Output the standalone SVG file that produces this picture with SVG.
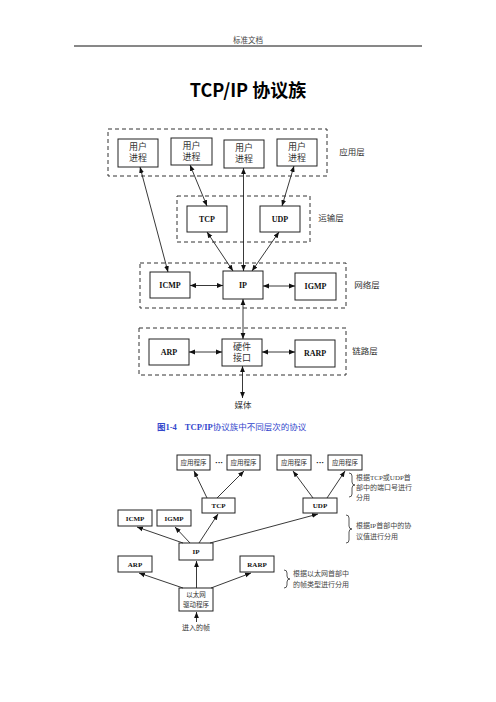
<svg xmlns="http://www.w3.org/2000/svg" width="496" height="702" viewBox="0 0 496 702">
<defs>
<marker id="ah" viewBox="0 0 10 10" refX="10" refY="5" markerWidth="6" markerHeight="6" orient="auto-start-reverse" markerUnits="userSpaceOnUse"><path d="M0,1 L10,5 L0,9 z" fill="#111"/></marker>
<style>
.box{fill:#fff;stroke:#222;stroke-width:1}
.dash{fill:none;stroke:#333;stroke-width:1;stroke-dasharray:4,3}
.c{fill:none;stroke:#222;stroke-width:0.9}
.a2{marker-start:url(#ah);marker-end:url(#ah)}
.a1{marker-end:url(#ah)}
.cj{font-family:"Liberation Serif","Noto Sans CJK SC",serif;fill:#333;text-anchor:middle}
.lb{font-family:"Liberation Serif","Noto Sans CJK SC",serif;fill:#111;font-weight:bold;text-anchor:middle}
.note{font-family:"Liberation Serif","Noto Sans CJK SC",serif;fill:#444;font-size:7px}
.br{fill:none;stroke:#444;stroke-width:0.9}
</style>
</defs>
<rect width="496" height="702" fill="#fff"/>
<text x="248" y="43" class="cj" style="font-size:7.5px;fill:#444">标准文档</text>
<line x1="74" y1="46" x2="422" y2="46" stroke="#111" stroke-width="1"/>
<text x="248" y="97" style="font-family:'Noto Sans CJK SC',sans-serif;font-weight:bold;font-size:18px;fill:#000;text-anchor:middle">TCP/IP 协议族</text>

<!-- Diagram 1 -->
<g id="layers1">
<rect class="dash" x="108" y="129" width="219" height="47"/>
<rect class="dash" x="177" y="196" width="133" height="46"/>
<rect class="dash" x="140" y="263" width="206" height="45"/>
<rect class="dash" x="139" y="328" width="207" height="47"/>
<text x="352" y="155" class="cj" style="font-size:8.5px">应用层</text>
<text x="331" y="221" class="cj" style="font-size:8.5px">运输层</text>
<text x="367" y="288" class="cj" style="font-size:8.5px">网络层</text>
<text x="365" y="354" class="cj" style="font-size:8.5px">链路层</text>
</g>
<g id="up1"><rect class="box" x="118" y="139" width="40" height="28"/><text x="138" y="150" class="cj" style="font-size:9px">用户</text><text x="138" y="161" class="cj" style="font-size:9px">进程</text></g>
<g id="up2"><rect class="box" x="171" y="138" width="41" height="27"/><text x="191.500" y="149" class="cj" style="font-size:9px">用户</text><text x="191.500" y="160" class="cj" style="font-size:9px">进程</text></g>
<g id="up3"><rect class="box" x="224" y="140" width="40" height="28"/><text x="244" y="151" class="cj" style="font-size:9px">用户</text><text x="244" y="162" class="cj" style="font-size:9px">进程</text></g>
<g id="up4"><rect class="box" x="277" y="139" width="40" height="27"/><text x="297" y="150" class="cj" style="font-size:9px">用户</text><text x="297" y="161" class="cj" style="font-size:9px">进程</text></g>
<g id="tcp1"><rect class="box" x="187" y="206" width="40" height="26"/><text x="207" y="222" class="lb" style="font-size:8px">TCP</text></g>
<g id="udp1"><rect class="box" x="260" y="206" width="40" height="26"/><text x="280" y="222" class="lb" style="font-size:8px">UDP</text></g>
<g id="icmp1"><rect class="box" x="150" y="272" width="40" height="26"/><text x="170" y="288" class="lb" style="font-size:8px">ICMP</text></g>
<g id="ip1"><rect class="box" x="223" y="271" width="40" height="28"/><text x="243" y="288" class="lb" style="font-size:8px">IP</text></g>
<g id="igmp1"><rect class="box" x="295" y="273" width="41" height="27"/><text x="315.500" y="289" class="lb" style="font-size:8px">IGMP</text></g>
<g id="arp1"><rect class="box" x="149" y="339" width="40" height="26"/><text x="169" y="355" class="lb" style="font-size:8px">ARP</text></g>
<g id="hw1"><rect class="box" x="222" y="339" width="40" height="27"/><text x="242" y="350" class="cj" style="font-size:9px">硬件</text><text x="242" y="361" class="cj" style="font-size:9px">接口</text></g>
<g id="rarp1"><rect class="box" x="295" y="340" width="40" height="27"/><text x="315" y="356" class="lb" style="font-size:8px">RARP</text></g>
<g id="media"><text x="243" y="408" class="cj" style="font-size:8.5px">媒体</text></g>
<g id="conn1">
<line class="c a2" x1="140" y1="167" x2="168" y2="272"/>
<line class="c a2" x1="190" y1="165" x2="207" y2="206"/>
<line class="c a2" x1="243.500" y1="168" x2="243.500" y2="271"/>
<line class="c a2" x1="294" y1="166" x2="282" y2="206"/>
<line class="c a2" x1="207" y1="232" x2="233" y2="271"/>
<line class="c a2" x1="279" y1="232" x2="252" y2="271"/>
<line class="c a2" x1="190" y1="285.500" x2="223" y2="285.500"/>
<line class="c a2" x1="263" y1="286" x2="295" y2="286"/>
<line class="c a2" x1="243" y1="299" x2="243" y2="339"/>
<line class="c a2" x1="189" y1="352" x2="222" y2="352"/>
<line class="c a2" x1="262" y1="352" x2="295" y2="352"/>
<line class="c a2" x1="242.500" y1="366" x2="242.500" y2="398"/>
</g>
<text x="157" y="430" style="font-family:'Liberation Serif','Noto Sans CJK SC',serif;font-size:8.5px;fill:#3346cc"><tspan font-weight="bold">图1-4</tspan><tspan dx="8" font-weight="bold">TCP/IP</tspan>协议族中不同层次的协议</text>

<!-- Diagram 2 -->
<g id="app1"><rect class="box" x="177" y="455" width="33" height="15"/><text x="193.500" y="465" class="cj" style="font-size:6.5px">应用程序</text></g>
<g id="app2"><rect class="box" x="227" y="455" width="33" height="15"/><text x="243.500" y="465" class="cj" style="font-size:6.5px">应用程序</text></g>
<g id="app3"><rect class="box" x="277" y="455" width="34" height="15"/><text x="294" y="465" class="cj" style="font-size:6.5px">应用程序</text></g>
<g id="app4"><rect class="box" x="328" y="455" width="34" height="15"/><text x="345" y="465" class="cj" style="font-size:6.5px">应用程序</text></g>
<text x="219" y="465" class="lb" style="font-size:8px">···</text>
<text x="320" y="465" class="lb" style="font-size:8px">···</text>
<g id="tcp2"><rect class="box" x="202" y="498" width="33" height="15"/><text x="218.500" y="508" class="lb" style="font-size:7px">TCP</text></g>
<g id="udp2"><rect class="box" x="303" y="498" width="34" height="15"/><text x="320" y="508" class="lb" style="font-size:7px">UDP</text></g>
<g id="icmp2"><rect class="box" x="118" y="510" width="34" height="16"/><text x="135" y="521" class="lb" style="font-size:7px">ICMP</text></g>
<g id="igmp2"><rect class="box" x="157" y="510" width="34" height="16"/><text x="174" y="521" class="lb" style="font-size:7px">IGMP</text></g>
<g id="ip2"><rect class="box" x="179" y="543" width="34" height="17"/><text x="196" y="554" class="lb" style="font-size:7px">IP</text></g>
<g id="arp2"><rect class="box" x="118" y="556" width="34" height="16"/><text x="135" y="567" class="lb" style="font-size:7px">ARP</text></g>
<g id="rarp2"><rect class="box" x="240" y="556" width="34" height="16"/><text x="257" y="567" class="lb" style="font-size:7px">RARP</text></g>
<g id="eth"><rect class="box" x="179" y="588" width="34" height="23"/><text x="196" y="597" class="cj" style="font-size:6.5px">以太网</text><text x="196" y="607" class="cj" style="font-size:6.5px">驱动程序</text></g>
<g id="frame"><text x="196" y="630" class="cj" style="font-size:7px">进入的帧</text></g>
<g id="conn2">
<line class="c a1" x1="207" y1="498" x2="194" y2="471"/>
<line class="c a1" x1="217" y1="498" x2="244" y2="471"/>
<line class="c a1" x1="313" y1="498" x2="293" y2="471"/>
<line class="c a1" x1="327" y1="498" x2="345" y2="471"/>
<line class="c a1" x1="183" y1="543" x2="137" y2="527"/>
<line class="c a1" x1="190" y1="543" x2="175" y2="527"/>
<line class="c a1" x1="199" y1="543" x2="218" y2="514"/>
<line class="c a1" x1="210" y1="543" x2="318" y2="514"/>
<line class="c a1" x1="183" y1="588" x2="139" y2="573"/>
<line class="c a1" x1="196.500" y1="588" x2="196.500" y2="561"/>
<line class="c a1" x1="211" y1="588" x2="251" y2="573"/>
<line class="c a1" x1="196.500" y1="622" x2="196.500" y2="612"/>
</g>
<g id="notes">
<path class="br" d="M349,473 q3,0 3,3 v6 q0,3 3,3 q-3,0 -3,3 v6 q0,3 -3,3"/>
<text x="356" y="480" class="note">根据TCP或UDP首</text>
<text x="356" y="490" class="note">部中的端口号进行</text>
<text x="356" y="500" class="note">分用</text>
<path class="br" d="M346,515 q3,0 3,3 v8 q0,3 3,3 q-3,0 -3,3 v8 q0,3 -3,3"/>
<text x="356" y="528" class="note">根据IP首部中的协</text>
<text x="356" y="539" class="note">议值进行分用</text>
<path class="br" d="M284,570 q3,0 3,3 v3 q0,3 3,3 q-3,0 -3,3 v3 q0,3 -3,3"/>
<text x="293" y="576" class="note">根据以太网首部中</text>
<text x="293" y="587" class="note">的帧类型进行分用</text>
</g>
</svg>
